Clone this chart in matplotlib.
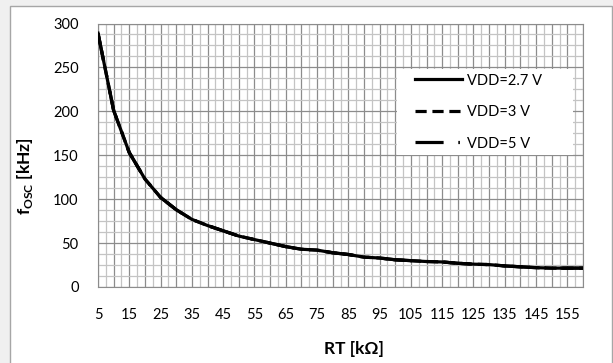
import numpy as np
import matplotlib
matplotlib.use("Agg")
import matplotlib.pyplot as plt
from matplotlib.patches import Rectangle
from matplotlib.ticker import MultipleLocator

plt.rcParams['font.family'] = ['Lato', 'DejaVu Sans']
plt.rcParams['mathtext.fontset'] = 'custom'
plt.rcParams['mathtext.rm'] = 'Lato'
plt.rcParams['mathtext.bf'] = 'Lato:bold'

# RT in kOhm, fosc in kHz (curves overlap)
rt = [5, 10, 15, 20, 25, 30, 35, 40, 45, 50, 55, 60, 65, 70, 75, 80,
      85, 90, 95, 100, 105, 110, 115, 120, 125, 130, 135, 140, 145, 150, 155, 160]
f_27 = [289, 201, 153, 123, 102, 88, 77, 70, 64, 58, 54, 50, 46, 43, 42, 39,
        37, 34, 33, 31, 30, 29, 28.5, 27, 26, 25.5, 24, 23, 22, 21.5, 21.5, 21.5]
f_3 = [289, 201, 153, 123, 102, 88, 77, 70, 64, 58, 54, 50, 46, 43, 42, 39,
       37, 34, 33, 31, 30, 29, 28.5, 27, 26, 25.5, 24, 23, 22, 21.5, 21.5, 21.5]
f_5 = [289, 201, 153, 123, 102, 88, 77, 70, 64, 58, 54, 50, 46, 43, 42, 39,
       37, 34, 33, 31, 30, 29, 28.5, 27, 26, 25.5, 24, 23, 22, 21.5, 21.5, 21.5]
labels = ['VDD=2.7 V', 'VDD=3 V', 'VDD=5 V']
xticks = list(range(5, 160, 10))
yticks = [0, 50, 100, 150, 200, 250, 300]

fig = plt.figure(figsize=(6.13, 3.63), dpi=100, facecolor='#f0f0f0')
# chart frame
fig.patches.append(Rectangle((10 / 613, -0.1), 602 / 613, 1.1 - 6 / 363,
                             transform=fig.transFigure, facecolor='white',
                             edgecolor='#a6a6a6', linewidth=1.0, zorder=-1))

ax = fig.add_axes([98 / 613, 1 - 287 / 363, 485 / 613, 263.5 / 363])
ax.set_zorder(1)
ax.set_xlim(5, 160)
ax.set_ylim(0, 300)

ax.xaxis.set_major_locator(MultipleLocator(5))
ax.xaxis.set_minor_locator(MultipleLocator(2.5))
ax.yaxis.set_major_locator(MultipleLocator(50))
ax.yaxis.set_minor_locator(MultipleLocator(12.5))
ax.grid(True, which='major', color='#8c8c8c', linewidth=0.9)
ax.grid(True, which='minor', color='#c4c4c4', linewidth=0.9)
ax.set_axisbelow(True)

ax.set_xticks(np.arange(5, 161, 5), minor=False)
ax.set_xticklabels([str(v) if v in xticks else '' for v in range(5, 161, 5)])
ax.set_yticks(yticks)
ax.tick_params(which='both', length=0, labelsize=10.5, colors='black')
ax.tick_params(axis='x', pad=15)
ax.tick_params(axis='y', pad=14)
for s in ax.spines.values():
    s.set_color('#8c8c8c')

ax.plot(rt, f_5, color='black', lw=2.3, linestyle=(0, (8.8, 4.6, 0.5, 4.6)), label=labels[2], zorder=3)
ax.plot(rt, f_3, color='black', lw=2.3, linestyle=(0, (3.5, 1.8)), label=labels[1], zorder=4)
ax.plot(rt, f_27, color='black', lw=2.3, linestyle='-', label=labels[0], zorder=5)

# white box behind the legend
ax.add_patch(Rectangle((0.616, 0.501), 0.363, 0.326, transform=ax.transAxes,
                       facecolor='white', edgecolor='none', zorder=2))
h, l = ax.get_legend_handles_labels()
leg = ax.legend(h[::-1], l[::-1], loc='center', bbox_to_anchor=(0.785, 0.664),
                frameon=False, fontsize=10.5, handlelength=3.2, handletextpad=0.4,
                labelspacing=1.2)
leg.set_zorder(6)

ax.set_xlabel('RT [k\u03a9]', fontsize=12.5, fontweight='bold')
ax.xaxis.set_label_coords(0.528, -0.205)
ax.set_ylabel(r'$\mathbf{f}_{\mathbf{OSC}}$ [kHz]', fontsize=12.5, fontweight='bold')
ax.yaxis.set_label_coords(-0.13, 0.42)

fig.savefig('out.png', dpi=100, facecolor=fig.get_facecolor())
